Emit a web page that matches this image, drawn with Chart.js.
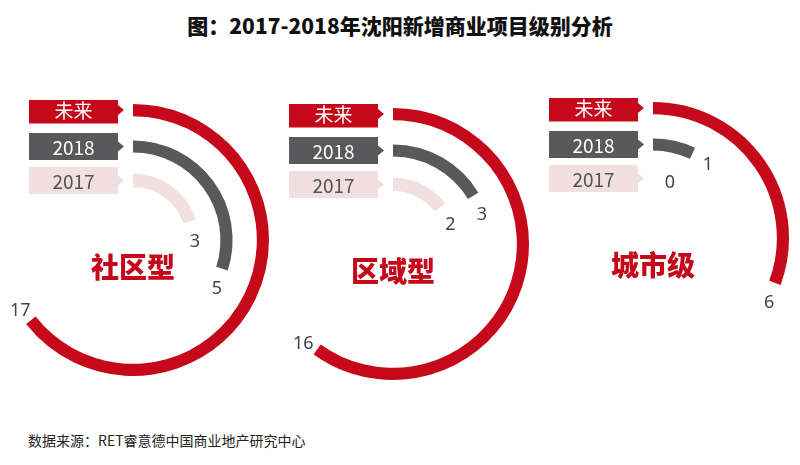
<!DOCTYPE html>
<html><head><meta charset="utf-8">
<script src="https://cdn.jsdelivr.net/npm/chart.js@4/dist/chart.umd.min.js"></script>
<style>
body{margin:0;width:800px;height:465px;background:#fff;position:relative;overflow:hidden;font-family:"Noto Sans CJK SC",sans-serif}
#title{position:absolute;top:10px;left:0;width:800px;text-align:center;font-size:21px;font-weight:900;color:#111}
#src{position:absolute;left:28px;top:430px;font-size:14px;color:#222}
canvas{position:absolute}
</style></head><body>
<div id="title">图：2017-2018年沈阳新增商业项目级别分析</div>
<div id="src">数据来源：RET睿意德中国商业地产研究中心</div>
<canvas id="c0" width="280" height="280"></canvas>
<canvas id="c1" width="280" height="280"></canvas>
<canvas id="c2" width="280" height="280"></canvas>
<script>
const categories = ["社区型","区域型","城市级"];
const seriesNames = ["未来","2018","2017"];
const futureValues = [17,16,6];
const y2018Values = [5,3,1];
const y2017Values = [3,2,0];
// value corresponding to a full circle, per ring (infographic arcs are not to a common scale)
const futureScale = [26.4,26.7,19.6];
const y2018Scale = [16.7,18.3,14.4];
const y2017Scale = [15,13.8,14];
const centers = [[133,240],[393,244],[653,238]];
const colors = ["#c5091a","#59595b","#f2dfdf"];
const textColors = ["#fff","#fff","#555"];

const deco = {
  id:'deco',
  afterDraw(chart){
    const ctx = chart.ctx;
    const g = chart.options.plugins.deco.group;
    const meta0 = chart.getDatasetMeta(0);
    const cx = meta0.data[0].x, cy = meta0.data[0].y;
    const vals = [futureValues[g], y2018Values[g], y2017Values[g]];
    [0,2,4].forEach((di,k)=>{
      const arc = chart.getDatasetMeta(di).data[0];
      const rMid = (arc.innerRadius+arc.outerRadius)/2;
      const by = cy - rMid, h = 27, x0 = cx-104, x1 = cx-15;
      ctx.fillStyle = colors[k];
      ctx.beginPath();
      ctx.moveTo(x0,by-h/2);ctx.lineTo(x1,by-h/2);ctx.lineTo(x1,by-5);ctx.lineTo(x1+6,by);
      ctx.lineTo(x1,by+5);ctx.lineTo(x1,by+h/2);ctx.lineTo(x0,by+h/2);ctx.closePath();ctx.fill();
      ctx.fillStyle = textColors[k];
      ctx.font = '19px "Noto Sans CJK SC", sans-serif';
      ctx.textAlign='center';ctx.textBaseline='middle';
      ctx.fillText(seriesNames[k],(x0+x1)/2,by+1);
      const a = arc.endAngle;
      const px = cx+Math.cos(a)*rMid, py = cy+Math.sin(a)*rMid;
      const lx = px - Math.sin(a)*17, ly = py + Math.cos(a)*17 + 4;
      ctx.fillStyle='#444';
      ctx.font='18px "Noto Sans", sans-serif';
      ctx.fillText(String(vals[k]),lx,ly);
    });
    ctx.fillStyle='#c5091a';
    ctx.font='900 28px "Noto Sans CJK SC", sans-serif';
    ctx.fillText(categories[g],cx,cy+27);
  }
};

categories.forEach((c,g)=>{
  const el = document.getElementById('c'+g);
  el.style.left=(centers[g][0]-140)+'px';
  el.style.top=(centers[g][1]-140)+'px';
  const ring=(v,s,col,w)=>({data:[v,Math.max(s-v,0)],backgroundColor:[col,'rgba(0,0,0,0)'],borderWidth:0,weight:w});
  const spacer=(w)=>({data:[1],backgroundColor:['rgba(0,0,0,0)'],borderWidth:0,weight:w});
  new Chart(el,{type:'doughnut',
    data:{labels:['v','rest'],datasets:[
      ring(futureValues[g],futureScale[g],colors[0],12),spacer(24),
      ring(y2018Values[g],y2018Scale[g],colors[1],12),spacer(21),
      ring(y2017Values[g],y2017Scale[g],colors[2],13)]},
    options:{responsive:false,animation:false,cutout:53,layout:{padding:4},
      plugins:{legend:{display:false},tooltip:{enabled:false},deco:{group:g}}},
    plugins:[deco]});
});
</script></body></html>
